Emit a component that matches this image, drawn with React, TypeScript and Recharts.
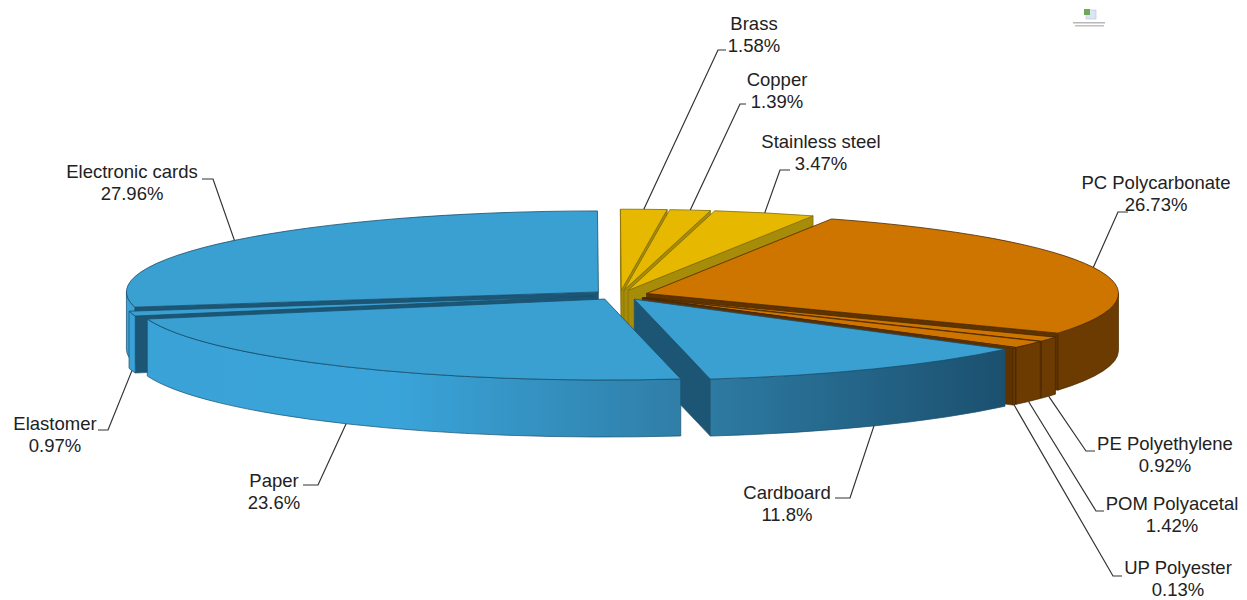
import { Pie, PieChart } from 'recharts';

// Listed clockwise, starting with the slice drawn furthest back.
const MATERIALS = [
  'Electronic cards',
  'Brass',
  'Copper',
  'Stainless steel',
  'PC Polycarbonate',
  'PE Polyethylene',
  'POM Polyacetal',
  'UP Polyester',
  'Cardboard',
  'Paper',
  'Elastomer',
];
const SHARES = [27.96, 1.58, 1.39, 3.47, 26.73, 0.92, 1.42, 0.13, 11.8, 23.6, 0.97];

const data = MATERIALS.map((name, i) => ({ name, value: SHARES[i] }));

const METALS = ['Brass', 'Copper', 'Stainless steel'];
const PLASTICS = ['PC Polycarbonate', 'PE Polyethylene', 'POM Polyacetal', 'UP Polyester'];

const RX = 472;
const RY = 81;
const DEPTH = 57;
const EXPLODE = 28;

// Label centre x, first line y, then leader elbow x, y and end x.
const LABELS: Record<string, number[]> = {
  'Electronic cards': [132, 172, 213, 179, 202],
  Brass: [754, 24, 718, 50, 726],
  Copper: [777, 80, 740, 104, 746],
  'Stainless steel': [821, 142, 780, 170, 790],
  'PC Polycarbonate': [1156, 183, 1118, 212, 1128],
  'PE Polyethylene': [1165, 444, 1086, 451, 1095],
  'POM Polyacetal': [1172, 504, 1096, 511, 1104],
  'UP Polyester': [1178, 568, 1113, 576, 1122],
  Cardboard: [787, 493, 850, 498, 835],
  Paper: [274, 481, 318, 485, 303],
  Elastomer: [55, 424, 108, 430, 98],
};

function palette(name: string) {
  if (METALS.includes(name)) return { top: '#E6B900', cut: '#A68C08', edge: '#7F6A05', wall: '#A68C08' };
  if (PLASTICS.includes(name)) return { top: '#CE7500', cut: '#5F3300', edge: '#4A2800', wall: '#6B3B02' };
  return { top: '#3A9FD1', cut: '#1D5675', edge: '#17506F', wall: 'url(#blueWall)' };
}

const rad = (deg: number) => (deg * Math.PI) / 180;

// Angles here run clockwise from the top of the pie.
function rimPoint(ax: number, ay: number, t: number) {
  return [ax + RX * Math.sin(rad(t)), ay - RY * Math.cos(rad(t))];
}

function apexOf(cx: number, cy: number, t0: number, t1: number) {
  const mid = (t0 + t1) / 2;
  return [cx + EXPLODE * Math.sin(rad(mid)), cy - ((EXPLODE * RY) / RX) * Math.cos(rad(mid))];
}

function clockwise(props: any) {
  const t0 = ((90 - props.startAngle) % 360 + 360) % 360;
  return [t0, t0 + Math.abs(props.startAngle - props.endAngle)];
}

function cutFace(ax: number, ay: number, t: number) {
  const [x, y] = rimPoint(ax, ay, t);
  return `M${ax},${ay} L${x},${y} L${x},${y + DEPTH} L${ax},${ay + DEPTH} Z`;
}

function arcTo(ax: number, ay: number, from: number, to: number, dy: number, sweep: number) {
  const [x, y] = rimPoint(ax, ay, to);
  const large = Math.abs(to - from) > 180 ? 1 : 0;
  return `A${RX},${RY} 0 ${large} ${sweep} ${x},${y + dy}`;
}

function frontWall(ax: number, ay: number, t0: number, t1: number) {
  const ranges = [
    [90, 270],
    [450, 630],
  ];
  const parts: string[] = [];
  for (const [lo, hi] of ranges) {
    const a = Math.max(t0, lo);
    const b = Math.min(t1, hi);
    if (b <= a) continue;
    const [x0, y0] = rimPoint(ax, ay, a);
    const [x1, y1] = rimPoint(ax, ay, b);
    parts.push(
      `M${x0},${y0} ${arcTo(ax, ay, a, b, 0, 1)} L${x1},${y1 + DEPTH} ${arcTo(ax, ay, b, a, DEPTH, 0)} Z`,
    );
  }
  return parts.join(' ');
}

function slice3d(props: any) {
  const { cx, cy, name } = props;
  const [t0, t1] = clockwise(props);
  const [ax, ay] = apexOf(cx, cy, t0, t1);
  const c = palette(name);
  const [sx, sy] = rimPoint(ax, ay, t0);
  const sin0 = Math.sin(rad(t0));
  const sin1 = Math.sin(rad(t1));
  return (
    <g>
      <linearGradient id="blueWall" gradientUnits="userSpaceOnUse" x1={130} y1={0} x2={1010} y2={0}>
        <stop offset="0" stopColor="#3AA2D6" />
        <stop offset="0.3" stopColor="#3AA4DA" />
        <stop offset="0.62" stopColor="#2F7FA8" />
        <stop offset="1" stopColor="#1B4F6E" />
      </linearGradient>
      {sin0 < 0 && <path d={cutFace(ax, ay, t0)} fill={c.cut} stroke={c.edge} strokeWidth={0.6} />}
      {sin1 > 0 && <path d={cutFace(ax, ay, t1)} fill={c.cut} stroke={c.edge} strokeWidth={0.6} />}
      <path d={frontWall(ax, ay, t0, t1)} fill={c.wall} stroke={c.edge} strokeWidth={0.7} />
      <path
        d={`M${ax},${ay} L${sx},${sy} ${arcTo(ax, ay, t0, t1, 0, 1)} Z`}
        fill={c.top}
        stroke={c.edge}
        strokeWidth={0.8}
      />
    </g>
  );
}

function backLayer(props: any) {
  return props.name === 'Paper' ? <g /> : slice3d(props);
}

function frontLayer(props: any) {
  return props.name === 'Paper' ? slice3d(props) : <g />;
}

function materialLabel(props: any) {
  const { cx, cy, name, value } = props;
  const [t0, t1] = clockwise(props);
  const [ax, ay] = apexOf(cx, cy, t0, t1);
  const mid = (t0 + t1) / 2;
  const [rx, ry] = rimPoint(ax, ay, mid);
  const startY = Math.cos(rad(mid)) < 0 ? ry + DEPTH : ry;
  const [tx, ty, ex, ey, endX] = LABELS[name];
  return (
    <g>
      <polyline
        points={`${rx},${startY} ${ex},${ey} ${endX},${ey}`}
        fill="none"
        stroke="#333"
        strokeWidth={1.2}
      />
      <text x={tx} y={ty + 6} textAnchor="middle" fontFamily="Liberation Sans" fontSize={18.5} fill="#222">
        {name}
      </text>
      <text x={tx} y={ty + 28} textAnchor="middle" fontFamily="Liberation Sans" fontSize={18.5} fill="#222">
        {`${value}%`}
      </text>
    </g>
  );
}

export default function App() {
  return (
    <div style={{ position: 'absolute', left: 0, top: 0, width: 1247, height: 600, background: '#fff' }}>
      <PieChart width={1247} height={600} margin={{ top: 0, right: 0, bottom: 0, left: 0 }}>
        <Pie
          data={data}
          dataKey="value"
          nameKey="name"
          cx={620}
          cy={295}
          outerRadius={RX}
          startAngle={-169.2}
          endAngle={-529.2}
          stroke="none"
          shape={backLayer}
          label={false}
          labelLine={false}
          isAnimationActive={false}
        />
        <Pie
          data={data}
          dataKey="value"
          nameKey="name"
          cx={620}
          cy={295}
          outerRadius={RX}
          startAngle={-169.2}
          endAngle={-529.2}
          stroke="none"
          shape={frontLayer}
          label={materialLabel}
          labelLine={false}
          isAnimationActive={false}
        />
        {/* small document mark, top right */}
        <g>
          <rect x={1086} y={10} width={10} height={9} fill="#DCE6F2" stroke="#A9BBD2" strokeWidth={0.5} />
          <rect x={1084} y={9} width={6} height={6} fill="#6FA85A" />
          <rect x={1073} y={22} width={32} height={1.5} fill="#B8B8B8" />
          <rect x={1075} y={25} width={29} height={1.5} fill="#C0C0C0" />
        </g>
      </PieChart>
    </div>
  );
}
